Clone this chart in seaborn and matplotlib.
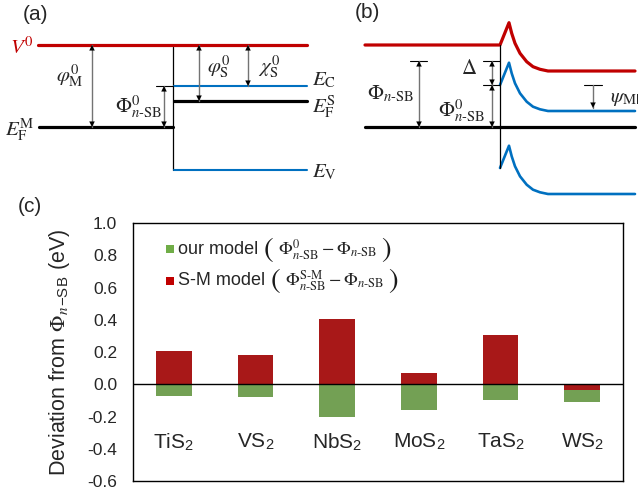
import numpy as np
import pandas as pd
import matplotlib
matplotlib.use("Agg")
import matplotlib.pyplot as plt
import seaborn as sns
from matplotlib.offsetbox import TextArea, DrawingArea, HPacker, VPacker, AnchoredOffsetbox
from matplotlib.patches import Rectangle

# ---- panel (c) data ----
materials = ["TiS$_\\mathregular{2}$", "VS$_\\mathregular{2}$", "NbS$_\\mathregular{2}$",
             "MoS$_\\mathregular{2}$", "TaS$_\\mathregular{2}$", "WS$_\\mathregular{2}$"]
our_model = [-0.075, -0.082, -0.201, -0.159, -0.100, -0.111]
sm_model = [0.205, 0.180, 0.402, 0.071, 0.306, -0.038]
model_names = ["our model", "S-M model"]
model_formulas = [r"$\Phi^{0}_{n\text{-SB}}-\Phi_{n\text{-SB}}$",
                  r"$\Phi^{\text{S-M}}_{n\text{-SB}}-\Phi_{n\text{-SB}}$"]
y_ticks = [-0.6, -0.4, -0.2, 0.0, 0.2, 0.4, 0.6, 0.8, 1.0]

# ---- schematic band levels (arbitrary energy units, vacuum = 0) ----
# panel (a): isolated metal / semiconductor
a_vac = 0.0
a_ef_metal = -4.1
a_ec = -2.05
a_ef_semi = -2.8
a_ev = -6.25
# panel (b): contact, band bending
b_bend_x = [500, 509, 511.7, 515, 520, 526.7, 533, 540, 548, 635]
b_bend_dy = [1.3, 2.415, 1.885, 1.385, 0.885, 0.465, 0.215, 0.085, 0.0, 0.0]
b_vac_right = -1.3
b_ec_right = -3.3
b_ev_right = -7.45
b_ef = -4.1
b_phi_sb = -0.8
b_phi_sb0 = -2.0
b_psi_end = -3.15

RED = "#C00000"
GREEN = "#70AD47"
BLUE = "#0070C0"

sns.set_style("white")
plt.rcParams["font.family"] = ["Liberation Sans", "DejaVu Sans"]
plt.rcParams["mathtext.fontset"] = "stix"

fig = plt.figure(figsize=(6.39, 4.94), dpi=100)

# overlay axes for the two schematics: x in pixels, y in energy units
ax_d = fig.add_axes([0, 0, 1, 1])
ax_d.set_xlim(0, 639)
ax_d.set_ylim(-22.45, 2.25)
ax_d.axis("off")


def arrow(ax, x, y0, y1, style="<|-|>"):
    # grey shaft, black heads
    ax.plot([x, x], [y0, y1], color="0.45", lw=1.0)
    ax.annotate("", xy=(x, y1), xytext=(x, y0),
                arrowprops=dict(arrowstyle=style, fc="black", ec="black", lw=0,
                                mutation_scale=10, shrinkA=0, shrinkB=0))


def tick(ax, x0, x1, y):
    ax.plot([x0, x1], [y, y], color="black", lw=0.8)


lab = dict(fontsize=15, va="center")

# panel (a)
ax_d.plot([38, 307], [a_vac, a_vac], color=RED, lw=2.3)
ax_d.plot([39, 173], [a_ef_metal, a_ef_metal], color="black", lw=2.3)
ax_d.plot([173, 173], [a_vac - 0.1, a_ev], color="black", lw=0.9)
ax_d.plot([174, 307], [a_ec, a_ec], color=BLUE, lw=1.5)
ax_d.plot([174, 307], [a_ef_semi, a_ef_semi], color="black", lw=2.3)
ax_d.plot([174, 307], [a_ev, a_ev], color=BLUE, lw=1.5)
arrow(ax_d, 92, a_vac, a_ef_metal)
tick(ax_d, 156, 173, a_ec)
arrow(ax_d, 164, a_ec, a_ef_metal)
arrow(ax_d, 199, a_vac, a_ef_semi)
arrow(ax_d, 248, a_vac, a_ec)
ax_d.text(10, -0.1, r"$V^{0}$", color=RED, ha="left", **lab)
ax_d.text(84, -1.55, r"$\varphi^{0}_{\mathrm{M}}$", ha="right", **lab)
ax_d.text(5, -4.25, r"$E^{\mathrm{M}}_{\mathrm{F}}$", ha="left", **lab)
ax_d.text(162, -3.1, r"$\Phi^{0}_{n\text{-SB}}$", ha="right", **lab)
ax_d.text(207, -1.1, r"$\varphi^{0}_{\mathrm{S}}$", ha="left", **lab)
ax_d.text(258, -1.1, r"$\chi^{0}_{\mathrm{S}}$", ha="left", **lab)
ax_d.text(312, -1.75, r"$E_{\mathrm{C}}$", ha="left", **lab)
ax_d.text(312, -3.1, r"$E^{\mathrm{S}}_{\mathrm{F}}$", ha="left", **lab)
ax_d.text(312, -6.35, r"$E_{\mathrm{V}}$", ha="left", **lab)

# panel (b)
bx = np.array(b_bend_x)
bdy = np.array(b_bend_dy)
ax_d.plot(np.r_[365, bx], np.r_[b_vac_right + bdy[0], b_vac_right + bdy], color=RED, lw=2.3)
ax_d.plot(bx, b_ec_right + bdy, color=BLUE, lw=1.9)
ax_d.plot(bx, b_ev_right + bdy, color=BLUE, lw=1.9)
ax_d.plot([365, 635], [b_ef, b_ef], color="black", lw=2.3)
ax_d.plot([500, 500], [0, b_ev_right + bdy[0]], color="black", lw=0.9)
tick(ax_d, 410, 427, b_phi_sb)
arrow(ax_d, 419, b_phi_sb, b_ef)
tick(ax_d, 483, 500, b_phi_sb)
tick(ax_d, 483, 500, b_phi_sb0)
arrow(ax_d, 492, b_phi_sb, b_phi_sb0)
arrow(ax_d, 492, b_phi_sb0, b_ef)
tick(ax_d, 584, 602, b_phi_sb0)
arrow(ax_d, 593, b_phi_sb0, b_psi_end, style="-|>")
ax_d.text(367, -2.45, r"$\Phi_{n\text{-SB}}$", ha="left", **lab)
ax_d.text(469, -1.2, r"$\Delta$", ha="center", **lab)
ax_d.text(485, -3.3, r"$\Phi^{0}_{n\text{-SB}}$", ha="right", **lab)
ax_d.text(610, -2.65, r"$\psi_{\mathrm{M|S}}$", ha="left", **lab)

fig.text(23 / 639, 1 - 15 / 494, "(a)", fontsize=15, va="center", ha="left")
fig.text(355 / 639, 1 - 13 / 494, "(b)", fontsize=15, va="center", ha="left")
fig.text(18 / 639, 1 - 206 / 494, "(c)", fontsize=15, va="center", ha="left")

# panel (c): bar chart
ax_c = fig.add_axes([133 / 639, 1 - 481 / 494, 490 / 639, 258 / 494])
df = pd.DataFrame({
    "material": materials * 2,
    "value": our_model + sm_model,
    "model": [model_names[0]] * len(materials) + [model_names[1]] * len(materials),
})
sns.barplot(data=df, x="material", y="value", hue="model", hue_order=model_names,
            palette=[GREEN, RED], dodge=False, width=0.44, linewidth=0, legend=False, ax=ax_c)
ax_c.axhline(0, color="black", lw=1.0)
ax_c.set_ylim(-0.6, 1.0)
ax_c.set_yticks(y_ticks)
ax_c.set_yticklabels([f"{v:.1f}" for v in y_ticks])
ax_c.set_xlabel("")
ax_c.set_ylabel(r"Deviation from $\Phi_{n}$$_{\mathregular{-SB}}$ (eV)", fontsize=15.5, labelpad=11)
ax_c.tick_params(axis="y", direction="in", length=5, width=0.8, labelsize=12.5, pad=11.5)
ax_c.tick_params(axis="x", length=0, labelsize=15, pad=-36)
for s in ax_c.spines.values():
    s.set_color("black")
    s.set_linewidth(1.0)

# legend with tall brackets around the formulas
rows = []
for name, formula, col in zip(model_names, model_formulas, [GREEN, RED]):
    sq = DrawingArea(6, 6, 0, 0)
    sq.add_artist(Rectangle((0, 0), 6, 6, fc=col, ec="none"))
    items = [sq,
             TextArea(name, textprops=dict(fontsize=13)),
             TextArea(r"$($", textprops=dict(fontsize=21, color="0.1")),
             TextArea(formula, textprops=dict(fontsize=13)),
             TextArea(r"$)$", textprops=dict(fontsize=21, color="0.1"))]
    rows.append(HPacker(children=items, align="center", pad=0, sep=3))
leg = AnchoredOffsetbox(loc="upper left", child=VPacker(children=rows, align="left", pad=0, sep=2),
                        frameon=False, pad=0, borderpad=0,
                        bbox_to_anchor=(0.067, 0.955), bbox_transform=ax_c.transAxes)
ax_c.add_artist(leg)

fig.savefig("out.png", dpi=100)
